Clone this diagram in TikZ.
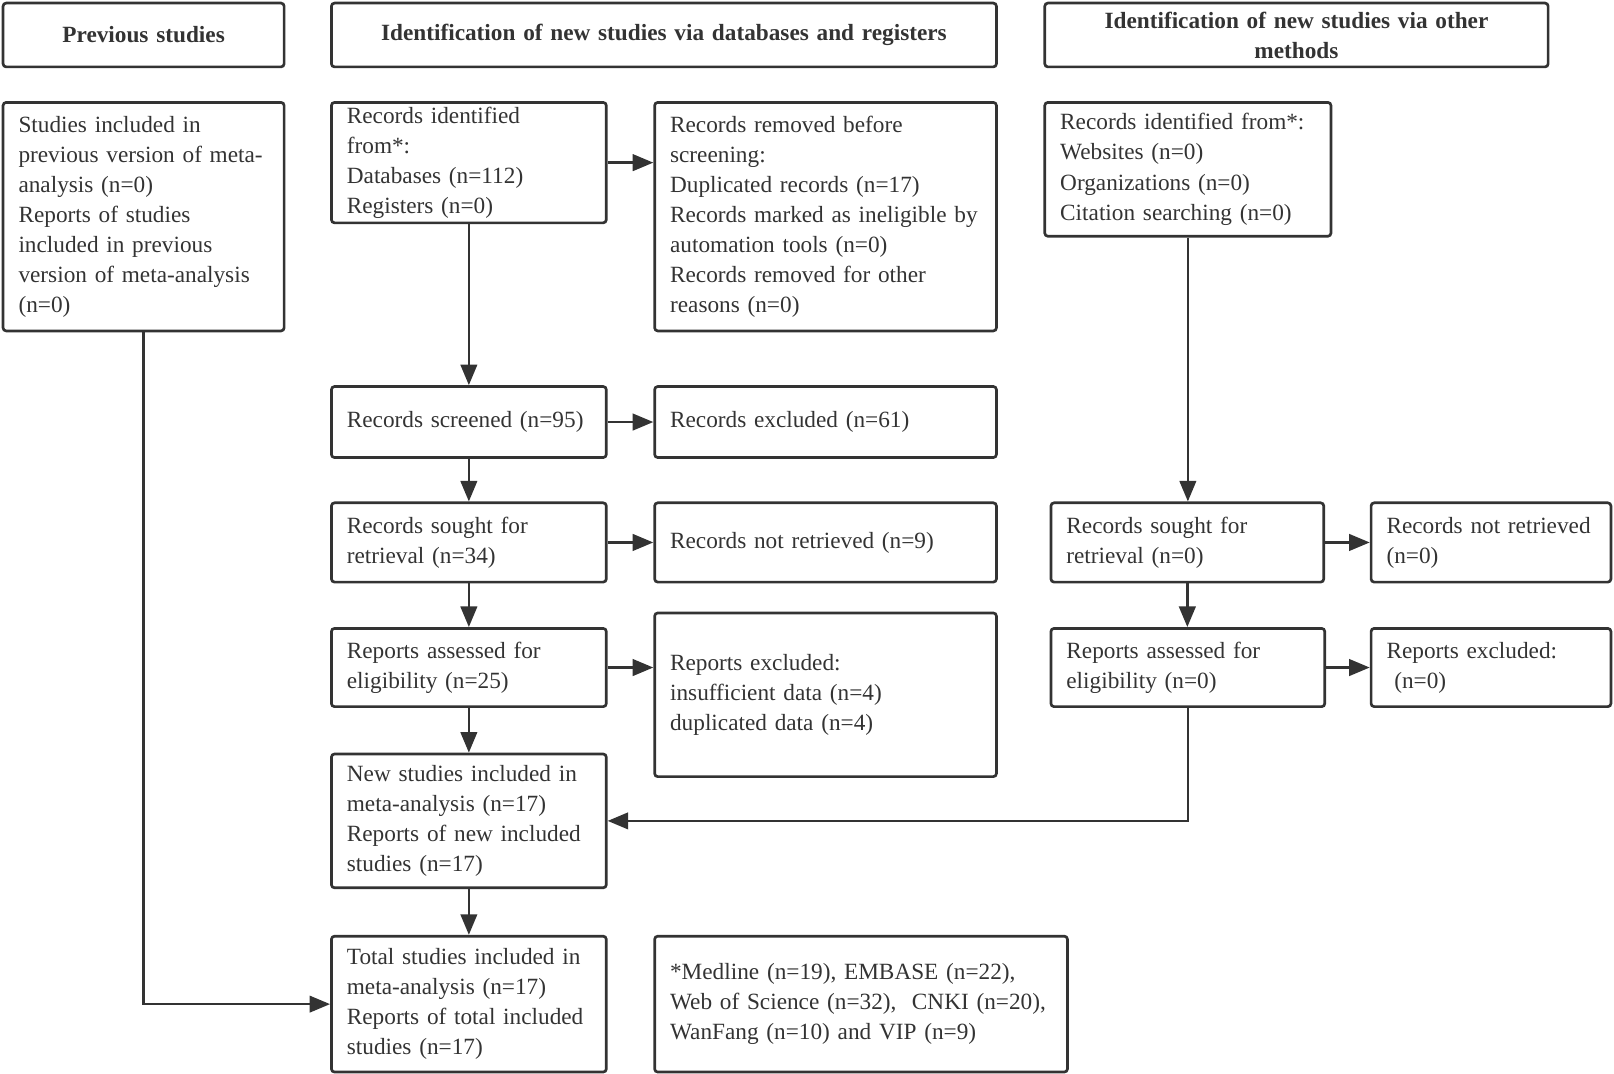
\documentclass[tikz,border=0pt]{standalone}
\usepackage{fontspec}
\setmainfont{Liberation Serif}
\usetikzlibrary{arrows.meta}
\definecolor{ink}{HTML}{333333}
\begin{document}
\begin{tikzpicture}[x=0.5pt,y=-0.5pt,
  box/.style={draw=ink, line width=1.3pt, rounded corners=1.5pt, text=ink,
    inner xsep=7.5pt, inner ysep=0pt, align=left,
    font=\fontsize{11.3}{14.6}\selectfont},
  head/.style={box, align=center, font=\fontsize{11.3}{14.6}\selectfont\bfseries},
  arr/.style={draw=ink, line width=1.3pt, -{Triangle[length=10pt,width=8pt]}}]
\useasboundingbox (0,0) rectangle (1568,1043);
% headers
\node[head, minimum width=136.5pt, minimum height=31pt, text width=121.5pt] (h1) at (139.5,34) {Previous studies};
\node[head, minimum width=323pt, minimum height=31pt, text width=308pt] (h2) at (645,34) {Identification of new studies via databases and registers};
\node[head, minimum width=244.5pt, minimum height=31pt, text width=229.5pt] (h3) at (1259.5,34) {Identification of new studies via other\\methods};
% boxes
\node[box, minimum width=136.5pt, minimum height=111pt, text width=121.5pt] (prev) at (139.5,210.5)
 {Studies included in\\previous version of meta-\\analysis (n=0)\\Reports of studies\\included in previous\\version of meta-analysis\\(n=0)};
\node[box, minimum width=133.5pt, minimum height=58.5pt, text width=118.5pt] (ident) at (455.5,158)
 {Records identified\\from*:\\Databases (n=112)\\Registers (n=0)};
\node[box, minimum width=166pt, minimum height=111pt, text width=151pt] (removed) at (802,210.5)
 {Records removed before\\screening:\\Duplicated records (n=17)\\Records marked as ineligible by\\automation tools (n=0)\\Records removed for other\\reasons (n=0)};
\node[box, minimum width=139pt, minimum height=65pt, text width=124pt] (oident) at (1154,164.5)
 {Records identified from*:\\Websites (n=0)\\Organizations (n=0)\\Citation searching (n=0)};
\node[box, minimum width=133.5pt, minimum height=34.5pt, text width=118.5pt] (screened) at (455.5,410)
 {Records screened (n=95)};
\node[box, minimum width=166pt, minimum height=34.5pt, text width=151pt] (excl) at (802,410)
 {Records excluded (n=61)};
\node[box, minimum width=133.5pt, minimum height=38.5pt, text width=118.5pt] (sought) at (455.5,527)
 {Records sought for\\retrieval (n=34)};
\node[box, minimum width=166pt, minimum height=38.5pt, text width=151pt] (notret) at (802,527)
 {Records not retrieved (n=9)};
\node[box, minimum width=132.5pt, minimum height=38.5pt, text width=117.5pt] (sought2) at (1153.5,527)
 {Records sought for\\retrieval (n=0)};
\node[box, minimum width=116.5pt, minimum height=38.5pt, text width=101.5pt] (notret2) at (1448.5,527)
 {Records not retrieved\\(n=0)};
\node[box, minimum width=133.5pt, minimum height=38pt, text width=118.5pt] (assessed) at (455.5,648.5)
 {Reports assessed for\\eligibility (n=25)};
\node[box, minimum width=166pt, minimum height=79.5pt, text width=151pt] (repexcl) at (802,675)
 {Reports excluded:\\insufficient data (n=4)\\duplicated data (n=4)};
\node[box, minimum width=133pt, minimum height=38pt, text width=118pt] (assessed2) at (1154,648.5)
 {Reports assessed for\\eligibility (n=0)};
\node[box, minimum width=116.5pt, minimum height=38pt, text width=101.5pt] (repexcl2) at (1448.5,648.5)
 {Reports excluded:\\\ (n=0)};
\node[box, minimum width=133.5pt, minimum height=65pt, text width=118.5pt] (new) at (455.5,797.5)
 {New studies included in\\meta-analysis (n=17)\\Reports of new included\\studies (n=17)};
\node[box, minimum width=133.5pt, minimum height=66pt, text width=118.5pt] (total) at (455.5,975.5)
 {Total studies included in\\meta-analysis (n=17)\\Reports of total included\\studies (n=17)};
\node[box, minimum width=200.5pt, minimum height=66pt, text width=185.5pt] (foot) at (836.5,975.5)
 {*Medline (n=19), EMBASE (n=22),\\Web of Science (n=32),\ \ CNKI (n=20),\\WanFang (n=10) and VIP (n=9)};
% arrows
\draw[arr] (ident.south) -- (screened.north);
\draw[arr] (ident.east) -- (ident.east -| removed.west);
\draw[arr] (screened.east) -- (excl.west);
\draw[arr] (screened.south) -- (sought.north);
\draw[arr] (sought.east) -- (notret.west);
\draw[arr] (sought.south) -- (assessed.south |- assessed.north);
\draw[arr] (assessed.east) -- (assessed.east -| repexcl.west);
\draw[arr] (assessed.south) -- (new.north);
\draw[arr] (new.south) -- (total.north);
\draw[arr] (oident.south) -- (oident.south |- sought2.north);
\draw[arr] (sought2.east) -- (notret2.west);
\draw[arr] (sought2.south) -- (sought2.south |- assessed2.north);
\draw[arr] (assessed2.east) -- (repexcl2.west);
\draw[arr] (assessed2.south) |- (new.east);
\draw[arr] (prev.south) |- (total.west);
\end{tikzpicture}
\end{document}
